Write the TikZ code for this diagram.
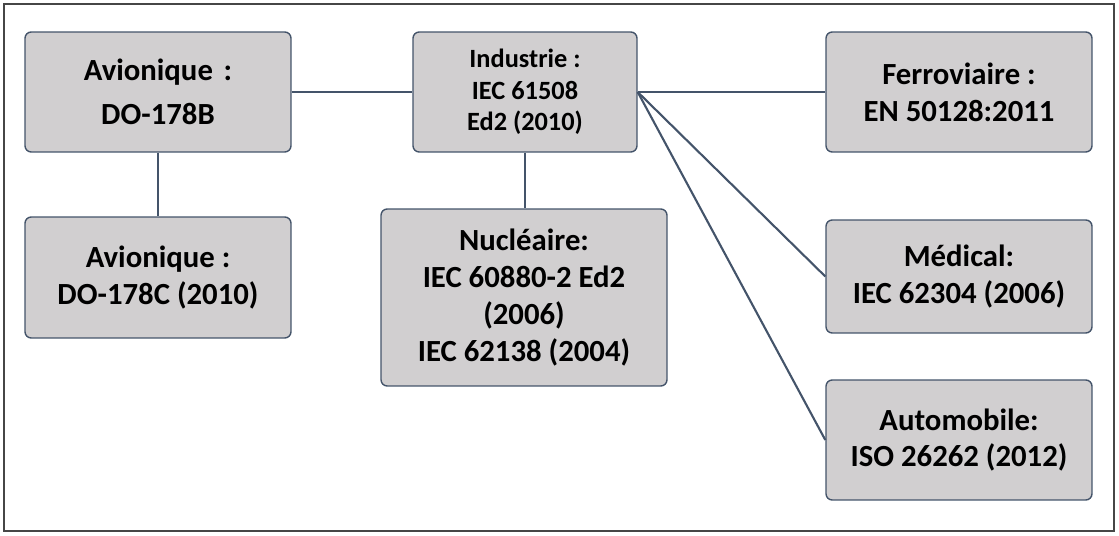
\documentclass[tikz,border=0pt]{standalone}
\usepackage{fontspec}
\setmainfont{Carlito}
\definecolor{boxgray}{RGB}{209, 207, 208}
\definecolor{slate1}{RGB}{68, 84, 106}
\definecolor{frame1}{RGB}{70, 70, 70}
\usetikzlibrary{positioning}

\begin{document}
\begin{tikzpicture}[
  x=0.02cm, y=-0.02cm,
  nbox/.style={draw=slate1, fill=boxgray, line width=0.8pt, rounded corners=3.5pt, minimum width=5.32cm, minimum height=2.4cm, align=center, font=\fontsize{17.5}{21}\selectfont\bfseries, inner sep=2pt},
  link/.style={draw=slate1, line width=1.2pt}
]
  \useasboundingbox (0,0) rectangle (1119,536);
  \draw[frame1, line width=0.8pt] (4,4) rectangle (1114,531);

  % left column
  \node[nbox, font=\fontsize{17.5}{25}\selectfont\bfseries] (avB) at (158, 92) {Avionique\hspace{0.35em}:\\DO-178B};
  \node[nbox, minimum height=2.42cm] (avC) at (158, 277.5) {Avionique :\\DO-178C (2010)};

  % middle column
  \node[nbox, minimum width=4.48cm, font=\fontsize{15}{18}\selectfont\bfseries] (ind) at (525, 92) {Industrie :\\IEC 61508\\Ed2 (2010)};
  \node[nbox, minimum width=5.72cm, minimum height=3.54cm, font=\fontsize{17.5}{21}\selectfont\bfseries] (nuc) at (524, 297.5) {Nucléaire:\\IEC 60880-2 Ed2\\(2006)\\IEC 62138 (2004)};

  % right column
  \node[nbox] (fer) at (959, 92) {Ferroviaire :\\EN 50128:2011};
  \node[nbox, minimum height=2.26cm] (med) at (959, 276.5) {Médical:\\IEC 62304 (2006)};
  \node[nbox] (aut) at (959, 440) {Automobile:\\ISO 26262 (2012)};

  % connectors
  \draw[link] (avB.east) -- (ind.west);
  \draw[link] (avB.south) -- (avC.north);
  \draw[link] (ind.south) -- (ind.south |- nuc.north);
  \draw[link] (ind.east) -- (fer.west);
  \draw[link] (ind.east) -- (med.west);
  \draw[link] (ind.east) -- (aut.west);
\end{tikzpicture}
\end{document}
